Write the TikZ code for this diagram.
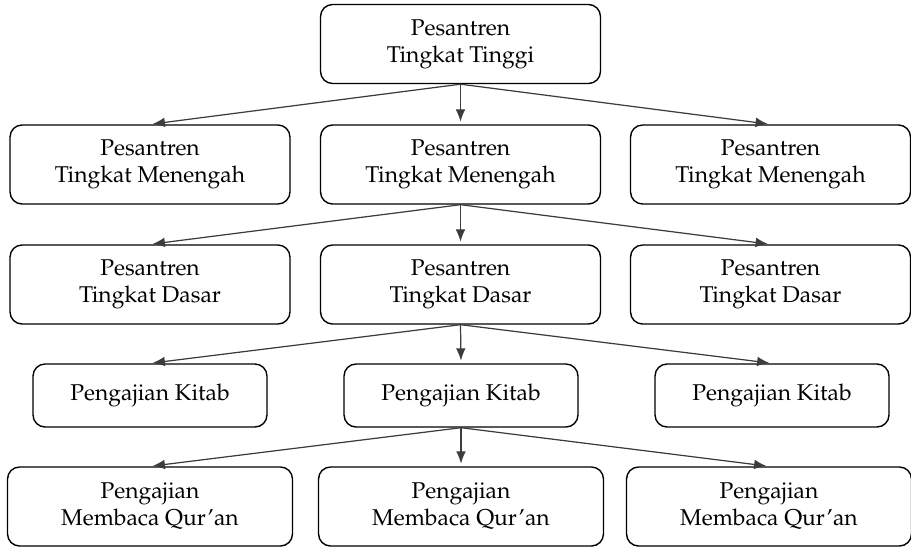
\documentclass[tikz,border=0pt]{standalone}
\usepackage[T1]{fontenc}
\usepackage{mathpazo}
\usetikzlibrary{arrows.meta}
\definecolor{linkgray}{HTML}{3C3C3C}

\begin{document}
\begin{tikzpicture}[x=0.02cm, y=-0.02cm,
  box/.style = {draw, line width=0.8pt, rounded corners=0.24cm, align=center,
    inner sep=0pt, minimum width=5.6cm, minimum height=1.58cm,
    font=\fontsize{13}{15.5}\selectfont},
  small/.style = {box, minimum width=4.68cm, minimum height=1.26cm},
  wide/.style = {box, minimum width=5.7cm},
  link/.style = {linkgray, line width=0.7pt, shorten >=1.5pt,
    -{Latex[length=7pt, width=5.5pt]}}]
\useasboundingbox (0,0) rectangle (911,547);
\path (460.5,44) node[box] (T) {Pesantren\\Tingkat Tinggi};
\path (150,164.5) node[box] (M1) {Pesantren\\Tingkat Menengah};
\path (460.5,164.5) node[box] (M2) {Pesantren\\Tingkat Menengah};
\path (770.5,164.5) node[box] (M3) {Pesantren\\Tingkat Menengah};
\path (150,284.5) node[box] (D1) {Pesantren\\Tingkat Dasar};
\path (460.5,284.5) node[box] (D2) {Pesantren\\Tingkat Dasar};
\path (770.5,284.5) node[box] (D3) {Pesantren\\Tingkat Dasar};
\path (150,395.5) node[small] (K1) {Pengajian Kitab};
\path (461,395.5) node[small] (K2) {Pengajian Kitab};
\path (772,395.5) node[small] (K3) {Pengajian Kitab};
\path (150,506.5) node[wide] (Q1) {Pengajian\\Membaca Qur'an};
\path (461,506.5) node[wide] (Q2) {Pengajian\\Membaca Qur'an};
\path (769,506.5) node[wide] (Q3) {Pengajian\\Membaca Qur'an};
\draw[link] (T.south) -- (M1.north);
\draw[link] (T.south) -- (M2.north);
\draw[link] (T.south) -- (M3.north);
\draw[link] (M2.south) -- (D1.north);
\draw[link] (M2.south) -- (D2.north);
\draw[link] (M2.south) -- (D3.north);
\draw[link] (D2.south) -- (K1.north);
\draw[link] (D2.south) -- (K2.north);
\draw[link] (D2.south) -- (K3.north);
\draw[link] (K2.south) -- (Q1.north);
\draw[link] (K2.south) -- (Q2.north);
\draw[link] (K2.south) -- (Q3.north);
\end{tikzpicture}
\end{document}
